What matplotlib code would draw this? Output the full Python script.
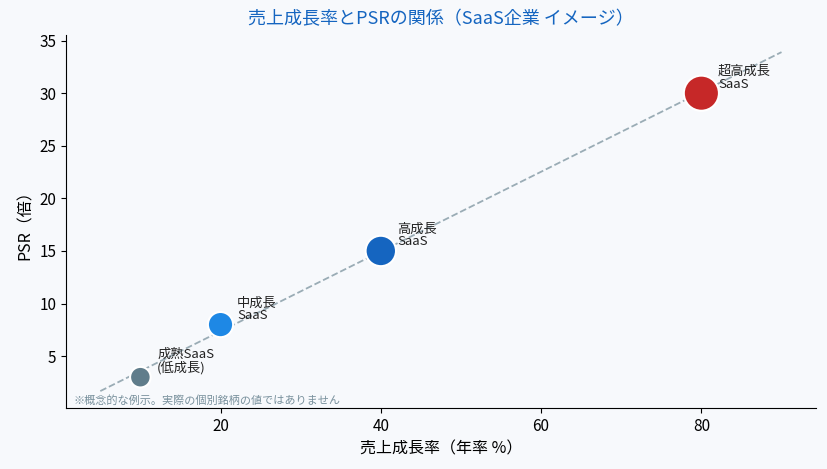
import numpy as np
import matplotlib.pyplot as plt

plt.rcParams['font.family'] = ['Noto Sans CJK JP', 'DejaVu Sans']

# Dane
growth = [10, 20, 40, 80]
psr = [3, 8, 15, 30]
labels = ['成熟SaaS\n(低成長)', '中成長\nSaaS', '高成長\nSaaS', '超高成長\nSaaS']
colors = ['#607D8B', '#1E88E5', '#1565C0', '#C62828']
sizes = [220, 330, 480, 640]

bg = '#F7F9FC'
fig, ax = plt.subplots(figsize=(8.28, 4.69), dpi=100)
fig.patch.set_facecolor(bg)
ax.set_facecolor(bg)

# linia trendu dopasowana do punktów
a, b = np.polyfit(growth, psr, 1)
x_line = np.linspace(5, 90, 100)
ax.plot(x_line, a * x_line + b, '--', color='#90A4AE', lw=1.3, alpha=0.9, zorder=1)

ax.scatter(growth, psr, s=sizes, c=colors, edgecolors='white', linewidths=1.5, zorder=3)
for x, y, t in zip(growth, psr, labels):
    ax.annotate(t, (x, y), xytext=(12, 4), textcoords='offset points',
                fontsize=9.5, color='#222222', linespacing=0.95)

ax.text(0.01, 0.005, '※概念的な例示。実際の個別銘柄の値ではありません', transform=ax.transAxes,
        fontsize=8, color='#78909C', va='bottom')

ax.set_title('売上成長率とPSRの関係（SaaS企業 イメージ）', color='#1565C0', fontsize=13, pad=8)
ax.set_xlabel('売上成長率（年率 %）', fontsize=11.5)
ax.set_ylabel('PSR（倍）', fontsize=11.5)
ax.spines['top'].set_visible(False)
ax.spines['right'].set_visible(False)
ax.tick_params(labelsize=11)

plt.subplots_adjust(left=0.08, right=0.985, top=0.925, bottom=0.13)
plt.savefig('out.png', facecolor=bg)
